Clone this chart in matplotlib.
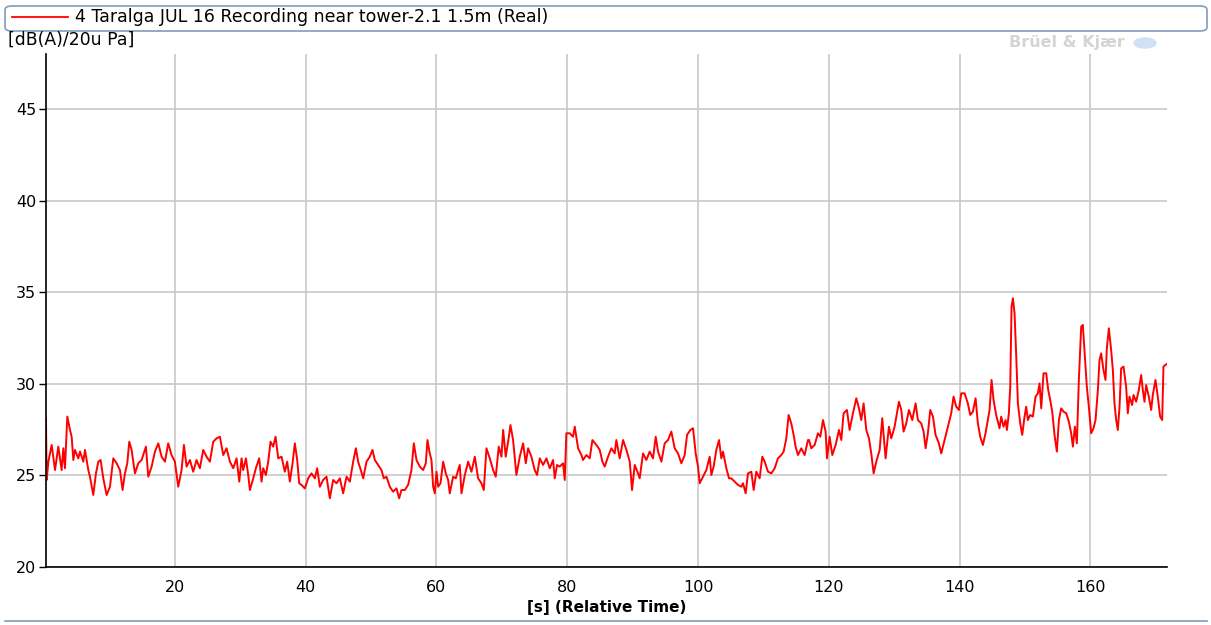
import numpy as np
import matplotlib
matplotlib.use('Agg')
import matplotlib.pyplot as plt
from matplotlib.patches import FancyBboxPatch, Ellipse
from matplotlib.lines import Line2D

# Series (time in s, level in dB(A))
t_a = [0.29, 0.39, 0.65, 1.16, 1.67, 2.17, 2.68, 2.94, 3.19, 3.55, 3.96, 4.21, 4.47, 4.72, 5.23, 5.49,
       6.00, 6.25, 6.76, 7.01, 7.52, 7.93, 8.29, 8.64, 9.05, 9.56, 10.07, 10.58, 11.09, 11.60, 12.00,
       12.36, 12.72, 13.02, 13.38, 13.89, 14.40, 14.91, 15.57, 15.93, 16.44, 16.95, 17.46, 17.97,
       18.48, 18.98, 19.49, 20.00, 20.51, 21.02, 21.38, 21.79, 22.30, 22.80, 23.31, 23.82, 24.33,
       24.84, 25.35, 25.86, 26.37, 26.88, 27.39, 27.90, 28.41, 28.92, 29.43, 29.84]
v_a = [28.06, 24.75, 25.75, 26.66, 25.29, 26.57, 25.29, 26.48, 25.39, 28.21, 27.48, 27.11, 25.84, 26.39,
       25.93, 26.30, 25.75, 26.39, 25.29, 24.93, 23.93, 25.11, 25.75, 25.84, 24.84, 23.93, 24.38, 25.93,
       25.66, 25.29, 24.20, 25.11, 25.66, 26.84, 26.39, 25.11, 25.66, 25.84, 26.57, 24.93, 25.48, 26.30,
       26.75, 26.02, 25.75, 26.75, 26.11, 25.75, 24.38, 25.29, 26.66, 25.48, 25.84, 25.20, 25.84, 25.39,
       26.39, 26.02, 25.75, 26.84, 27.02, 27.11, 26.11, 26.48, 25.75, 25.39, 25.93, 24.66]

t_b = [30.19, 30.45, 30.86, 31.21, 31.47, 31.98, 32.38, 32.89, 33.25, 33.50, 33.91, 34.27, 34.62, 35.03,
       35.39, 35.80, 36.31, 36.81, 37.17, 37.58, 37.99, 38.34, 38.70, 39.01, 39.36, 39.87, 40.38, 40.89,
       41.40, 41.76, 42.16, 42.67, 43.18, 43.69, 44.20, 44.71, 45.22, 45.73, 46.24, 46.75, 47.26, 47.67,
       48.02, 48.43, 48.79, 49.30, 49.80, 50.21, 50.57, 51.08, 51.59, 51.94, 52.35, 52.86, 53.37, 53.88,
       54.29, 54.64, 55.15, 55.66, 56.17, 56.53, 56.94, 57.45, 57.96, 58.36, 58.62, 58.97]
v_b = [25.93, 25.29, 25.93, 25.02, 24.20, 24.84, 25.39, 25.93, 24.66, 25.39, 25.02, 25.75, 26.84, 26.57,
       27.11, 25.93, 26.02, 25.20, 25.75, 24.66, 25.66, 26.75, 25.84, 24.57, 24.48, 24.29, 24.84, 25.11,
       24.84, 25.39, 24.38, 24.75, 24.93, 23.75, 24.75, 24.57, 24.84, 24.02, 24.93, 24.66, 25.75, 26.48,
       25.75, 25.29, 24.84, 25.75, 26.02, 26.39, 25.84, 25.57, 25.29, 24.84, 24.93, 24.38, 24.11, 24.29,
       23.75, 24.20, 24.20, 24.48, 25.29, 26.75, 25.84, 25.48, 25.29, 25.66, 26.93, 26.20]

t_c = [59.23, 59.49, 59.74, 60.00, 60.25, 60.61, 61.02, 61.42, 61.78, 62.03, 62.54, 62.95, 63.31, 63.56,
       63.82, 64.33, 64.84, 65.35, 65.86, 66.36, 66.87, 67.23, 67.64, 68.15, 68.66, 69.06, 69.52, 69.93,
       70.19, 70.59, 70.95, 71.31, 71.71, 72.22, 72.73, 73.24, 73.65, 74.01, 74.51, 75.02, 75.38, 75.79,
       76.30, 76.81, 77.32, 77.83, 78.08, 78.44, 78.84, 79.35, 79.61, 79.86, 80.37, 80.88, 81.14, 81.65,
       82.16, 82.41, 82.92, 83.43, 83.84, 84.45, 84.96, 85.37, 85.72, 86.23, 86.74, 87.25, 87.50, 88.01]
v_c = [25.84, 24.38, 24.02, 25.20, 24.38, 24.57, 25.75, 25.11, 24.75, 24.02, 24.93, 24.84, 25.29, 25.57,
       24.02, 25.02, 25.75, 25.20, 26.02, 24.84, 24.57, 24.20, 26.48, 25.93, 25.29, 24.93, 26.57, 26.02,
       27.48, 26.02, 26.84, 27.75, 26.93, 25.02, 26.02, 26.75, 25.66, 26.48, 26.02, 25.29, 25.02, 25.93,
       25.57, 25.93, 25.39, 25.84, 24.84, 25.57, 25.48, 25.66, 24.75, 27.30, 27.30, 27.11, 27.66, 26.48,
       26.11, 25.84, 26.11, 25.93, 26.93, 26.66, 26.39, 25.75, 25.48, 26.02, 26.48, 26.20, 26.93, 25.93]

t_d = [88.53, 89.04, 89.55, 89.90, 90.31, 90.82, 91.07, 91.58, 92.09, 92.60, 93.11, 93.52, 93.88, 94.39,
       94.89, 95.40, 95.91, 96.42, 96.93, 97.44, 97.95, 98.31, 98.82, 99.23, 99.63, 99.99, 100.24, 100.75,
       101.26, 101.77, 102.03, 102.38, 102.79, 103.20, 103.55, 103.81, 104.32, 104.73, 105.08, 105.59,
       106.10, 106.61, 106.87, 107.27, 107.63, 108.14, 108.50, 108.90, 109.41, 109.82, 110.18, 110.69,
       111.20, 111.71, 112.21, 112.72, 113.08, 113.49, 113.84, 114.25, 114.61, 114.91, 115.27, 115.78,
       116.29, 116.80]
v_d = [26.93, 26.39, 25.75, 24.20, 25.57, 25.11, 24.84, 26.20, 25.84, 26.30, 25.93, 27.11, 26.30, 25.75,
       26.75, 26.93, 27.39, 26.48, 26.20, 25.66, 26.11, 27.21, 27.48, 27.57, 26.20, 25.48, 24.57, 24.93,
       25.29, 26.02, 25.02, 25.48, 26.39, 26.93, 25.93, 26.30, 25.39, 24.84, 24.84, 24.66, 24.48, 24.38,
       24.57, 24.02, 25.11, 25.20, 24.20, 25.20, 24.84, 26.02, 25.75, 25.20, 25.11, 25.39, 25.93, 26.11,
       26.30, 27.02, 28.30, 27.84, 27.21, 26.57, 26.11, 26.48, 26.11, 26.93]

t_e = [116.96, 117.31, 117.82, 118.33, 118.69, 119.10, 119.50, 119.71, 120.11, 120.52, 121.03, 121.54,
       121.90, 122.25, 122.76, 123.17, 123.68, 124.19, 124.60, 124.95, 125.31, 125.72, 126.13, 126.48,
       126.84, 127.25, 127.76, 128.16, 128.67, 129.18, 129.54, 130.05, 130.71, 131.07, 131.42, 131.83,
       132.24, 132.75, 133.26, 133.61, 134.12, 134.48, 134.79, 135.14, 135.50, 135.91, 136.31, 136.82,
       137.18, 137.69, 138.20, 138.71, 139.06, 139.47, 139.88, 140.24, 140.75, 141.25, 141.61, 142.02,
       142.43, 142.78, 143.14, 143.55, 143.95, 144.31, 144.57, 144.87, 145.18, 145.58, 146.09]
v_e = [26.93, 26.48, 26.66, 27.30, 27.11, 28.02, 27.39, 25.93, 27.11, 26.11, 26.66, 27.48, 26.93, 28.39,
       28.57, 27.48, 28.39, 29.21, 28.66, 28.02, 28.93, 27.48, 27.02, 26.20, 25.11, 25.75, 26.39, 28.12,
       25.93, 27.66, 27.02, 27.66, 29.02, 28.57, 27.39, 27.84, 28.57, 28.02, 28.93, 28.02, 27.84, 27.39,
       26.48, 27.30, 28.57, 28.21, 27.21, 26.75, 26.20, 26.93, 27.66, 28.39, 29.30, 28.75, 28.57, 29.48,
       29.48, 28.93, 28.30, 28.48, 29.21, 27.84, 27.11, 26.66, 27.30, 28.02, 28.57, 30.21, 29.12, 28.30,
       27.57]

t_f = [146.35, 146.71, 147.02, 147.22, 147.52, 147.73, 147.93, 148.14, 148.39, 148.65, 148.90, 149.26,
       149.56, 149.92, 150.17, 150.43, 150.78, 151.19, 151.60, 151.96, 152.21, 152.47, 152.82, 153.23,
       153.54, 153.84, 154.15, 154.50, 154.86, 155.17, 155.52, 155.88, 156.29, 156.69, 157.05, 157.31,
       157.61, 157.92, 158.22, 158.58, 158.83, 159.09, 159.44, 159.75, 160.11, 160.46, 160.77, 161.13,
       161.38, 161.63, 161.99, 162.30, 162.50, 162.81, 163.16, 163.42, 163.67, 163.93, 164.18, 164.44,
       164.69, 165.05, 165.45, 165.71, 165.96, 166.37, 166.58, 166.98, 167.39, 167.75, 168.00, 168.26,
       168.51, 168.92, 169.28, 169.53, 169.94, 170.29, 170.65, 170.96, 171.16, 171.47, 171.82]
v_f = [28.21, 27.66, 28.02, 27.48, 28.39, 29.84, 34.21, 34.67, 33.85, 31.48, 28.93, 27.84, 27.21, 28.21,
       28.75, 28.02, 28.30, 28.21, 29.30, 29.48, 30.02, 28.66, 30.57, 30.57, 29.66, 29.12, 28.48, 27.21,
       26.30, 28.02, 28.66, 28.48, 28.39, 27.93, 27.30, 26.57, 27.66, 26.75, 30.21, 33.12, 33.21, 31.75,
       29.84, 28.75, 27.30, 27.57, 28.02, 29.66, 31.30, 31.66, 30.75, 30.21, 31.94, 33.03, 31.84, 30.75,
       28.93, 28.02, 27.48, 28.75, 30.84, 30.94, 29.84, 28.39, 29.30, 28.84, 29.39, 29.02, 29.66, 30.48,
       29.66, 29.02, 29.93, 29.30, 28.57, 29.39, 30.21, 29.30, 28.21, 28.02, 30.94, 31.03, 31.12]

series_name = '4 Taralga JUL 16 Recording near tower-2.1 1.5m (Real)'
x_ticks = [20, 40, 60, 80, 100, 120, 140, 160]
y_ticks = [20, 25, 30, 35, 40, 45]

t = np.array(t_a + t_b + t_c + t_d + t_e + t_f)
v = np.array(v_a + v_b + v_c + v_d + v_e + v_f)

fig = plt.figure(figsize=(12.11, 6.25), dpi=100)
ax = fig.add_axes([46 / 1211, 1 - 567 / 625, (1167 - 46) / 1211, (567 - 54) / 625])

ax.plot(t, v, color='#ff0000', lw=1.4)

ax.set_xlim(0.29, 171.7)
ax.set_ylim(20, 48)
ax.set_xticks(x_ticks)
ax.set_yticks(y_ticks)
ax.grid(True, color='#c8c8c8', lw=1.2)
ax.set_axisbelow(True)
for s in ['top', 'right']:
    ax.spines[s].set_visible(False)
for s in ['left', 'bottom']:
    ax.spines[s].set_color('black')
    ax.spines[s].set_linewidth(1.2)
ax.tick_params(axis='y', length=5, width=1, labelsize=11.5, pad=2)
ax.tick_params(axis='x', length=0, labelsize=11.5, pad=9)
ax.set_xlabel('[s] (Relative Time)', fontsize=11, fontweight='bold', labelpad=4)

# y unit label above axis
fig.text(8 / 1211, 1 - 45 / 625, '[dB(A)/20u Pa]', fontsize=12.4, va='baseline', ha='left')

# legend box across the top
fig.patches.append(FancyBboxPatch((5 / 1211, 1 - 31 / 625), 1202 / 1211, 25 / 625,
                                  boxstyle='round,pad=0,rounding_size=0.006',
                                  transform=fig.transFigure, fill=False,
                                  edgecolor='#7f9db9', lw=1.2))
fig.lines.append(Line2D([12 / 1211, 68 / 1211], [1 - 17 / 625, 1 - 17 / 625],
                        transform=fig.transFigure, color='#ff0000', lw=1.3))
fig.text(75 / 1211, 1 - 17 / 625, series_name, fontsize=12.5, va='center', ha='left')

# watermark
fig.text(1125 / 1211, 1 - 43 / 625, 'Brüel & Kjær', fontsize=11.5, fontweight='bold',
         color='#d4d4d4', ha='right', va='center')
fig.patches.append(Ellipse((1145 / 1211, 1 - 43 / 625), 22 / 1211, 10 / 625,
                           transform=fig.transFigure, color='#cfe0f7'))

# bottom separator line
fig.lines.append(Line2D([5 / 1211, 1207 / 1211], [1 - 621 / 625, 1 - 621 / 625],
                        transform=fig.transFigure, color='#7f9db9', lw=1.2))

fig.savefig('out.png', dpi=100)
